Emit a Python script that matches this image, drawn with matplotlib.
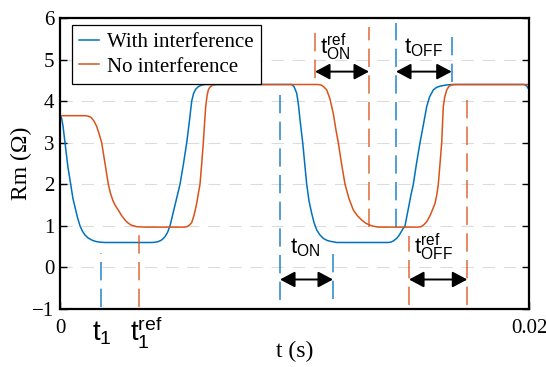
"""Rm response with / without interference, with t_ON / t_OFF markers."""
import numpy as np
import matplotlib
matplotlib.use("Agg")
import matplotlib.pyplot as plt

plt.rcParams["font.family"] = "Liberation Serif"
plt.rcParams["mathtext.fontset"] = "custom"
plt.rcParams["mathtext.rm"] = "Liberation Sans"
plt.rcParams["mathtext.it"] = "Liberation Sans"

BLUE = "#0072BD"
ORANGE = "#D95319"

# curves (time in ms, Rm in ohm)
t_with = [0, 0.064, 0.128, 0.213, 0.277, 0.341, 0.456, 0.554, 0.640, 0.746, 0.853,
          0.959, 1.066, 1.194, 1.352, 1.493, 1.620, 1.770, 1.919,
          3.923, 4.051, 4.179, 4.307, 4.392, 4.478, 4.584, 4.691, 4.797, 4.904,
          5.011, 5.117, 5.267, 5.403, 5.514, 5.616, 5.693, 5.778, 5.898, 6.013, 6.183,
          9.765, 9.881, 9.979, 10.094, 10.171, 10.235, 10.350, 10.435, 10.520, 10.618,
          10.733, 10.832, 10.947, 11.087, 11.228, 11.386, 11.514, 11.800,
          13.987, 14.115, 14.222, 14.358, 14.456, 14.542, 14.627, 14.712, 14.797, 14.883,
          14.968, 15.066, 15.202, 15.352, 15.501, 15.638, 15.757, 15.919, 16.055, 16.205,
          16.491, 16.716, 19.787, 19.893, 20.0]
rm_with = [3.65, 3.60, 3.40, 3.0, 2.7, 2.4, 2.0, 1.65, 1.45, 1.2, 1.0,
           0.87, 0.78, 0.71, 0.66, 0.63, 0.615, 0.605, 0.60,
           0.60, 0.605, 0.62, 0.65, 0.69, 0.74, 0.84, 1.0, 1.25, 1.5,
           1.75, 2.0, 2.5, 3.0, 3.5, 4.0, 4.18, 4.28, 4.35, 4.38, 4.40,
           4.40, 4.40, 4.35, 4.19, 3.9, 3.55, 3.0, 2.5, 2.0, 1.6,
           1.30, 1.08, 0.90, 0.78, 0.70, 0.65, 0.63, 0.60,
           0.60, 0.61, 0.64, 0.70, 0.77, 0.85, 0.93, 1.0, 1.25, 1.5,
           1.75, 2.0, 2.5, 3.0, 3.45, 3.87, 4.1, 4.27, 4.33, 4.36,
           4.39, 4.40, 4.40, 4.37, 4.28]

t_no = [0, 1.066, 1.194, 1.322, 1.450, 1.565, 1.663, 1.778, 1.919, 2.060, 2.153,
        2.260, 2.367, 2.486, 2.623, 2.772, 2.900, 3.028, 3.271, 3.625,
        5.288, 5.416, 5.522, 5.616, 5.714, 5.829, 5.906, 5.970, 6.043, 6.111,
        6.162, 6.213, 6.269, 6.324, 6.397, 6.537, 6.695,
        11.002, 11.130, 11.258, 11.373, 11.514, 11.654, 11.770, 11.868, 12.004, 12.154,
        12.325, 12.509, 12.687, 12.866, 13.049, 13.292, 13.561,
        15.267, 15.394, 15.501, 15.638, 15.736, 15.821, 15.906, 15.992, 16.068, 16.132,
        16.205, 16.277, 16.311, 16.345, 16.405, 16.491, 16.589, 16.704, 16.845, 20.0]
rm_no = [3.65, 3.65, 3.64, 3.61, 3.52, 3.39, 3.22, 3.0, 2.5, 2.0, 1.78,
         1.6, 1.48, 1.38, 1.25, 1.14, 1.07, 1.02, 0.98, 0.97,
         0.97, 0.98, 1.02, 1.08, 1.25, 1.54, 1.8, 2.0, 2.5, 3.0,
         3.45, 3.87, 4.12, 4.27, 4.34, 4.39, 4.40,
         4.40, 4.39, 4.34, 4.27, 4.05, 3.7, 3.3, 3.0, 2.5, 2.0,
         1.65, 1.38, 1.24, 1.14, 1.06, 1.0, 0.97,
         0.97, 0.98, 1.02, 1.1, 1.2, 1.3, 1.42, 1.54, 1.75, 2.0,
         2.5, 3.0, 3.45, 3.87, 4.1, 4.27, 4.36, 4.39, 4.40, 4.40]

# marker lines: (time ms, y bottom, y top, colour)
markers = [
    (1.748, -0.95, 0.35, BLUE),      # t1
    (3.369, -0.95, 0.95, ORANGE),    # t1 ref
    (9.382, -0.78, 4.32, BLUE),      # t_ON start
    (11.642, -0.76, 0.47, BLUE),     # t_ON end
    (10.874, 4.56, 5.79, ORANGE),    # t_ON ref start
    (13.177, 0.97, 5.79, ORANGE),    # t_ON ref end
    (14.328, 0.97, 5.87, BLUE),      # t_OFF start
    (16.703, 4.46, 5.74, BLUE),      # t_OFF end
    (14.883, -0.90, 0.75, ORANGE),   # t_OFF ref start
    (17.369, -0.90, 4.08, ORANGE),   # t_OFF ref end
]
# arrows: (start ms, end ms, y)
arrows = [(9.382, 11.642, -0.29), (10.874, 13.177, 4.71),
          (14.328, 16.703, 4.71), (14.883, 17.369, -0.29)]
# labels: (x ms, y, text, size)
labels = [(1.37, -1.76, r"$\mathrm{t_1}$", 20),
          (3.0, -1.76, r"$\mathrm{t_1^{ref}}$", 20),
          (11.1, 5.14, r"$\mathrm{t_{ON}^{ref}}$", 16),
          (14.65, 5.14, r"$\mathrm{t_{OFF}}$", 16),
          (9.8, 0.33, r"$\mathrm{t_{ON}}$", 16),
          (15.1, 0.33, r"$\mathrm{t_{OFF}^{ref}}$", 16)]

fig = plt.figure(figsize=(5.46, 3.67), dpi=100)
ax = fig.add_axes([0.1099, 0.158, 0.859, 0.793])

ax.plot(np.array(t_with) * 1e-3, rm_with, color=BLUE, lw=1.1, label="With interference")
ax.plot(np.array(t_no) * 1e-3, rm_no, color=ORANGE, lw=1.1, label="No interference")

for tm, y0, y1, c in markers:
    ax.plot([tm * 1e-3] * 2, [y0, y1], color=c, lw=1.2, alpha=0.8,
            dashes=(11, 5), zorder=3)
for a0, a1, y in arrows:
    ax.annotate("", xy=(a1 * 1e-3, y), xytext=(a0 * 1e-3, y),
                arrowprops=dict(arrowstyle="<|-|>,head_length=0.75,head_width=0.4",
                                color="black", lw=1.4, mutation_scale=12,
                                shrinkA=0, shrinkB=0), zorder=4)
for x, y, s, fs in labels:
    ax.text(x * 1e-3, y, s, fontsize=fs, ha="left", va="baseline", clip_on=False)

ax.set_xlim(0, 0.02)
ax.set_ylim(-1, 6)
ax.set_xticks([0, 0.02])
ax.set_xticklabels(["0", "0.02"])
ax.set_yticks(range(-1, 7))
ax.set_yticklabels(["\u22121", "0", "1", "2", "3", "4", "5", "6"])
ax.yaxis.grid(True, color="#dcdcdc", lw=0.8, linestyle=(0, (11, 8)))
ax.tick_params(direction="in", length=5, width=1, labelsize=15, right=True)
ax.tick_params(axis="x", pad=7)
ax.tick_params(axis="y", pad=4)
for sp in ax.spines.values():
    sp.set_linewidth(1.6)
ax.set_xlabel("t (s)", fontsize=17, labelpad=2)
ax.set_ylabel("Rm (\u03a9)", fontsize=17, labelpad=0)

leg = ax.legend(loc="upper left", bbox_to_anchor=(0.0256, 0.976), borderaxespad=0,
                fontsize=15, fancybox=False, edgecolor="black", framealpha=1,
                handlelength=0.95, handletextpad=0.4, borderpad=0.35, labelspacing=0.25)
leg.get_frame().set_linewidth(0.9)

fig.savefig("out.png", dpi=100)
